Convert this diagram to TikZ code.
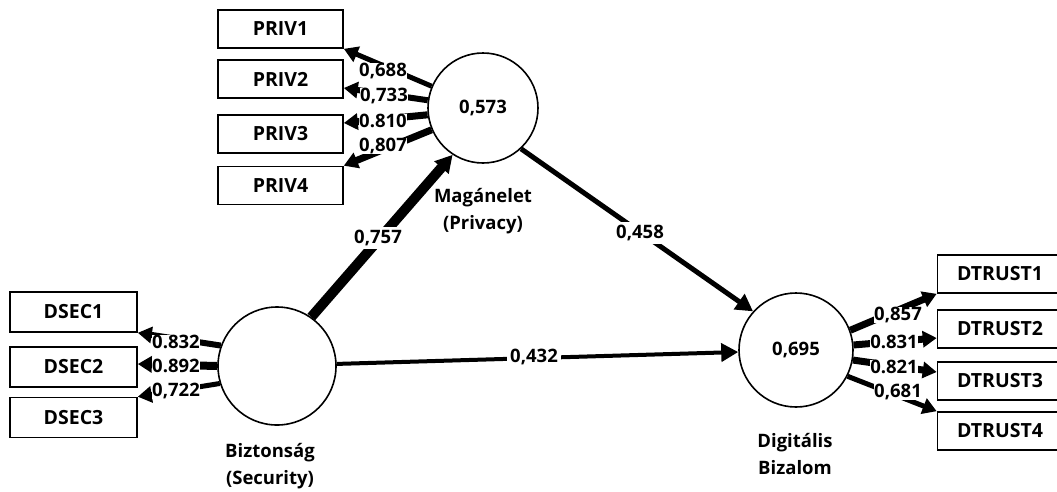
\documentclass[tikz,border=0pt]{standalone}
\usepackage{fontspec}
\setmainfont{Open Sans}
\usetikzlibrary{arrows.meta}
\begin{document}
\begin{tikzpicture}[x=1pt,y=-1pt,
  font=\bfseries\fontsize{19.5}{21}\selectfont,
  indicator/.style={draw, line width=1.6pt, minimum width=125pt, minimum height=38pt, inner sep=0pt, fill=white},
  latent/.style={draw, circle, line width=1.6pt, inner sep=0pt},
  loading/.style={line width=#1, -{Triangle[length=14pt,width=16pt]}},
  path/.style={line width=#1, -{Triangle[length=17pt,width=18pt]}},
  value/.style={fill=white, inner sep=0.4pt, font=\bfseries\fontsize{18.5}{20}\selectfont},
  caption/.style={align=center, font=\bfseries\fontsize{18.5}{27.5}\selectfont}
]
\useasboundingbox (0,0) rectangle (1057,491);
\begin{scope}
\clip (0,0) rectangle (1057,491);

% indicator boxes
\node[indicator] (priv1) at (280.5,29) {PRIV1};
\node[indicator] (priv2) at (280.5,79) {PRIV2};
\node[indicator] (priv3) at (280.5,134) {PRIV3};
\node[indicator] (priv4) at (280.5,185.5) {PRIV4};

\node[indicator, minimum width=127pt, minimum height=40pt] (dsec1) at (73.5,312) {DSEC1};
\node[indicator, minimum width=127pt, minimum height=40pt] (dsec2) at (73.5,367) {DSEC2};
\node[indicator, minimum width=127pt, minimum height=40pt] (dsec3) at (73.5,417.5) {DSEC3};

\node[indicator] (dtrust1) at (1000,274) {DTRUST1};
\node[indicator] (dtrust2) at (1000,329) {DTRUST2};
\node[indicator] (dtrust3) at (1000,381) {DTRUST3};
\node[indicator] (dtrust4) at (1000,431) {DTRUST4};

% latent variables
\node[latent, minimum size=110pt] (privacy) at (483,108) {\fontsize{18.5}{20}\selectfont 0,573};
\node[latent, minimum size=118pt] (security) at (277,366) {};
\node[latent, minimum size=114pt] (trust) at (796,350) {\fontsize{18.5}{20}\selectfont 0,695};

% outer loadings
\draw[loading=5pt] (privacy.157) -- (priv1.south east);
\draw[loading=6pt] (privacy.172) -- ([yshift=-9pt]priv2.east);
\draw[loading=7pt] (privacy.187) -- ([yshift=11pt]priv3.east);
\draw[loading=7pt] (privacy.203) -- (priv4.north east);

\draw[loading=6pt] (security.160) -- (dsec1.south east);
\draw[loading=8pt] (security.180) -- ([yshift=3pt]dsec2.east);
\draw[loading=5pt] (security.197) -- (dsec3.north east);

\draw[loading=7pt] (trust.20) -- (dtrust1.south west);
\draw[loading=7pt] (trust.5) -- ([yshift=-9pt]dtrust2.west);
\draw[loading=7pt] (trust.-10) -- ([yshift=9pt]dtrust3.west);
\draw[loading=5pt] (trust.-27) -- (dtrust4.north west);

% path coefficients
\draw[path=10pt] (security.55) -- (privacy.237);
\draw[path=5pt] (privacy.-47) -- (trust.138);
\draw[path=4pt] (security.2) -- (trust.182);

% values
\node[value] (l1) at (383,71) {0,688};
\node[value] (l2) at (384,96) {0,733};
\node[value] (l3) at (383,121) {0.810};
\node[value] (l4) at (383,146) {0,807};

\node[value] (s1) at (176,342) {0.832};
\node[value] (s2) at (176,366) {0.892};
\node[value] (s3) at (176,391) {0,722};

\node[value] (t1) at (898,315) {0,857};
\node[value] (t2) at (894,342) {0.831};
\node[value] (t3) at (894,367) {0.821};
\node[value] (t4) at (898,392) {0,681};

\node[value, inner sep=3pt] (p1) at (378,238) {0,757};
\node[value, inner sep=3pt] (p2) at (640,233) {0,458};
\node[value, inner sep=3pt] (p3) at (534,357) {0,432};

% captions
\node[caption] (cprivacy) at (483,211) {Magánelet\\(Privacy)};
\node[caption] (csecurity) at (270,466) {Biztonság\\(Security)};
\node[caption] (ctrust) at (795,454) {Digitális\\Bizalom};
\end{scope}
\end{tikzpicture}
\end{document}
